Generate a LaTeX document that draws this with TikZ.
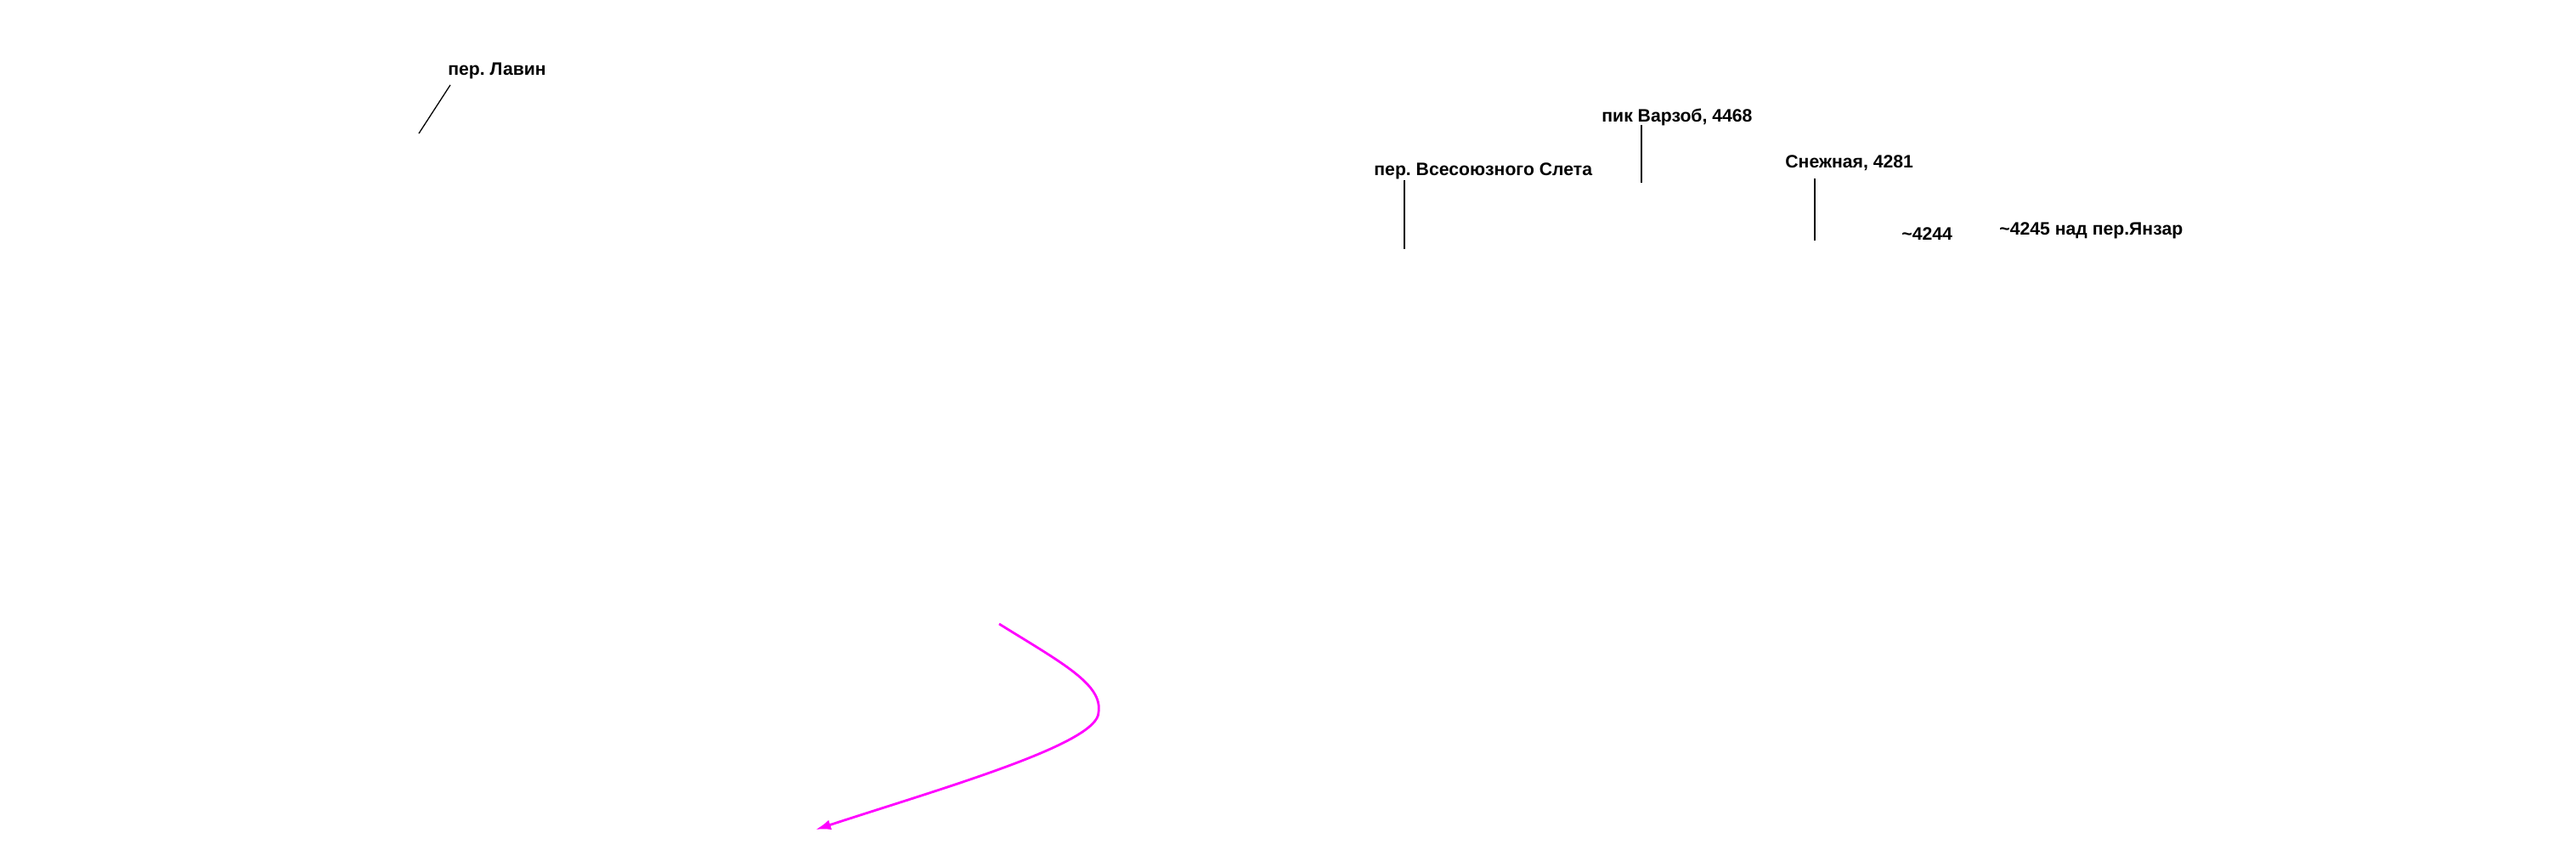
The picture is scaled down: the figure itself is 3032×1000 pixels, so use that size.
\documentclass[tikz,border=0pt]{standalone}
\usepackage{fontspec}
\setmainfont{Liberation Sans}
\usetikzlibrary{arrows.meta}
\definecolor{routemag}{RGB}{255,0,255}
\frenchspacing
\begin{document}
\begin{tikzpicture}[x=0.5pt,y=-0.5pt,
  lbl/.style={font=\fontsize{10.6}{12}\selectfont\bfseries, inner sep=0pt, anchor=base west},
  leader/.style={draw=black, line width=0.65pt},
  route/.style={draw=routemag, line width=1.4pt, -{Latex[length=9pt,width=6pt]}}]
\useasboundingbox (0,0) rectangle (3032,1000);
% labels
\node[lbl] (lavin) at (527,89) {пер. Лавин};
\node[lbl] (varzob) at (1885,144) {пик Варзоб, 4468};
\node[lbl] (sleta) at (1617,207) {пер. Всесоюзного Слета};
\node[lbl] (snezh) at (2101,198) {Снежная, 4281};
\node[lbl] (p4244) at (2238,283) {\char"007E 4244};
\node[lbl] (p4245) at (2353,277) {\char"007E 4245 над пер.Янзар};
% leader line ends
\coordinate (lavinA) at (530,100);
\coordinate (lavinB) at (493,157);
\coordinate (varzobA) at (1932,147);
\coordinate (varzobB) at (1932,215);
\coordinate (sletaA) at (1653,212);
\coordinate (sletaB) at (1653,293);
\coordinate (snezhA) at (2136,210);
\coordinate (snezhB) at (2136,283);
\draw[leader] (lavinA) -- (lavinB);
\draw[leader] (varzobA) -- (varzobB);
\draw[leader] (sletaA) -- (sletaB);
\draw[leader] (snezhA) -- (snezhB);
% route
\coordinate (rStart) at (1176,734);
\coordinate (rTurn) at (1293,838);
\coordinate (rEnd) at (960,976);
\draw[route] (rStart) .. controls (1250,780) and (1298,805) .. (rTurn)
  .. controls (1293,875) and (1110,927) .. (rEnd);
\end{tikzpicture}
\end{document}
